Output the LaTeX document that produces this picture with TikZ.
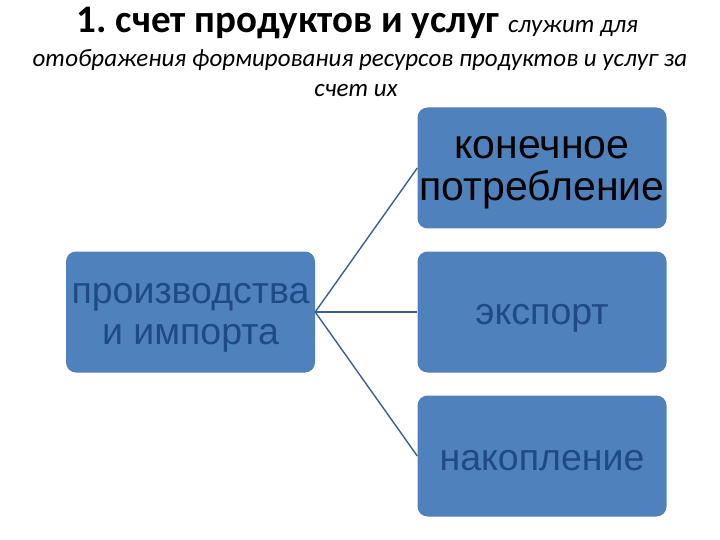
\documentclass[tikz,border=0pt]{standalone}
\usepackage{fontspec}
\setmainfont{Carlito}
\newfontfamily\boxfamily{Liberation Sans}
\definecolor{boxblue}{HTML}{4F81BD}
\definecolor{boxtext}{HTML}{1F4A85}
\definecolor{connblue}{HTML}{3E5F8C}
\begin{document}
\begin{tikzpicture}[x=1pt,y=-1pt,
  box/.style={rounded corners=10pt, fill=boxblue, minimum width=249pt, minimum height=121pt,
    inner sep=0pt},
  boxlabel/.style={inner sep=0pt, align=center, font=\boxfamily\fontsize{37.5}{41}\selectfont},
  conn/.style={draw=connblue, line width=1.4pt},
  ttl/.style={anchor=base, inner sep=0pt}]
\useasboundingbox (0,0) rectangle (720,540);
\node[ttl] (t1) at (357.5,33) {\frenchspacing\fontsize{39}{41}\selectfont\bfseries 1. счет продуктов и услуг \fontsize{25}{28}\selectfont\mdseries\itshape служит для};
\node[ttl] (t2) at (360,67) {\fontsize{25}{28}\selectfont\itshape отображения формирования ресурсов продуктов и услуг за};
\node[ttl] (t3) at (356,97) {\fontsize{25}{28}\selectfont\itshape счет их};
\node[box] (L) at (190.5,312) {};
\node[box] (B1) at (542,168) {};
\node[box] (B2) at (542,312) {};
\node[box] (B3) at (542,456) {};
\node[boxlabel, text=boxtext] (Lt) at ([yshift=-6pt]L.center) {производства\\и импорта};
\node[boxlabel, text=black, font=\boxfamily\fontsize{41}{42}\selectfont] (B1t) at ([yshift=-5pt]B1.center) {конечное\\потребление};
\node[boxlabel, text=boxtext] (B2t) at ([yshift=-6pt]B2.center) {экспорт};
\node[boxlabel, text=boxtext] (B3t) at ([yshift=-5pt]B3.center) {накопление};
\draw[conn] (L.east) -- (B1.west);
\draw[conn] (L.east) -- (B2.west);
\draw[conn] (L.east) -- (B3.west);
\end{tikzpicture}
\end{document}
